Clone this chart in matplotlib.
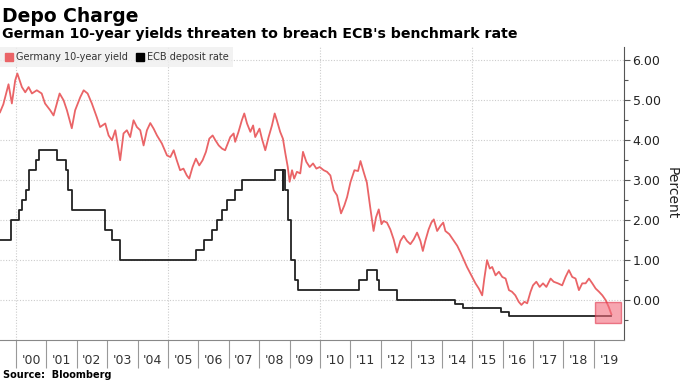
import matplotlib
matplotlib.use("Agg")
import matplotlib.pyplot as plt
from matplotlib.lines import Line2D
from matplotlib.patches import Rectangle
import numpy as np

# German 10-year yield (decimal year, percent)
yield_t = [1999.48, 1999.59, 1999.76, 1999.87, 1999.98, 2000.05, 2000.20, 2000.31, 2000.42, 2000.53,
           2000.69, 2000.85, 2000.96, 2001.13, 2001.24, 2001.35, 2001.44, 2001.57, 2001.68, 2001.84,
           2001.95, 2002.12, 2002.23, 2002.36, 2002.50, 2002.66, 2002.77, 2002.94, 2003.05, 2003.16,
           2003.27, 2003.38, 2003.43, 2003.54, 2003.65, 2003.76, 2003.87, 2003.98, 2004.09, 2004.20,
           2004.31, 2004.42, 2004.53, 2004.64, 2004.80, 2004.97, 2005.08, 2005.19, 2005.29, 2005.40,
           2005.51, 2005.62, 2005.70, 2005.81, 2005.92, 2006.03, 2006.14, 2006.25, 2006.36, 2006.47,
           2006.56, 2006.67, 2006.78, 2006.88, 2006.99, 2007.05, 2007.16, 2007.21, 2007.32, 2007.43,
           2007.51, 2007.60, 2007.71, 2007.80, 2007.87, 2008.01, 2008.09, 2008.20, 2008.31, 2008.42,
           2008.51, 2008.58, 2008.69, 2008.78, 2008.86, 2008.94, 2009.00, 2009.08, 2009.15, 2009.24,
           2009.35, 2009.44, 2009.55, 2009.66, 2009.77, 2009.88, 2009.99, 2010.12, 2010.23, 2010.34,
           2010.45, 2010.56, 2010.69, 2010.80, 2010.89, 2011.00, 2011.13, 2011.25, 2011.33, 2011.44,
           2011.54, 2011.65, 2011.76, 2011.84, 2011.93, 2012.02, 2012.09, 2012.20, 2012.31, 2012.42,
           2012.53, 2012.64, 2012.75, 2012.86, 2012.97, 2013.08, 2013.19, 2013.30, 2013.38, 2013.46,
           2013.57, 2013.66, 2013.74, 2013.85, 2013.96, 2014.05, 2014.12, 2014.25, 2014.40, 2014.51,
           2014.62, 2014.73, 2014.83, 2014.94, 2015.11, 2015.22, 2015.33, 2015.40, 2015.49, 2015.58,
           2015.66, 2015.77, 2015.88, 2015.99, 2016.10, 2016.21, 2016.31, 2016.42, 2016.53, 2016.62,
           2016.72, 2016.81, 2016.92, 2017.00, 2017.11, 2017.22, 2017.33, 2017.44, 2017.58, 2017.68,
           2017.82, 2017.96, 2018.07, 2018.18, 2018.29, 2018.40, 2018.51, 2018.62, 2018.73, 2018.84,
           2018.95, 2019.06, 2019.17, 2019.28, 2019.39, 2019.49, 2019.58]
yield_v = [4.70, 4.90, 5.40, 4.92, 5.50, 5.67, 5.33, 5.20, 5.33, 5.17,
           5.25, 5.17, 4.92, 4.75, 4.62, 4.92, 5.17, 5.00, 4.75, 4.30,
           4.75, 5.08, 5.25, 5.17, 4.92, 4.58, 4.33, 4.42, 4.12, 4.00,
           4.25, 3.75, 3.50, 4.17, 4.25, 4.08, 4.50, 4.33, 4.25, 3.87,
           4.25, 4.43, 4.29, 4.12, 3.92, 3.62, 3.58, 3.75, 3.50, 3.25,
           3.29, 3.12, 3.04, 3.33, 3.54, 3.37, 3.50, 3.71, 4.04, 4.12,
           4.00, 3.87, 3.79, 3.75, 3.96, 4.08, 4.17, 3.96, 4.21, 4.50,
           4.67, 4.42, 4.21, 4.37, 4.08, 4.29, 4.04, 3.75, 4.08, 4.37,
           4.67, 4.50, 4.21, 4.04, 3.67, 3.33, 2.96, 3.25, 3.04, 3.21,
           3.17, 3.71, 3.46, 3.33, 3.42, 3.29, 3.33, 3.25, 3.21, 3.12,
           2.75, 2.62, 2.17, 2.37, 2.58, 2.95, 3.25, 3.23, 3.48, 3.19,
           2.94, 2.32, 1.73, 2.07, 2.27, 1.90, 1.98, 1.94, 1.77, 1.52,
           1.19, 1.48, 1.61, 1.48, 1.40, 1.52, 1.69, 1.48, 1.23, 1.48,
           1.77, 1.94, 2.02, 1.73, 1.86, 1.94, 1.73, 1.65, 1.48, 1.36,
           1.19, 1.00, 0.83, 0.67, 0.42, 0.29, 0.12, 0.54, 1.00, 0.79,
           0.83, 0.62, 0.71, 0.58, 0.54, 0.25, 0.21, 0.12, -0.04, -0.12,
           -0.04, -0.08, 0.21, 0.37, 0.46, 0.33, 0.42, 0.33, 0.54, 0.46,
           0.42, 0.37, 0.58, 0.75, 0.58, 0.54, 0.25, 0.42, 0.42, 0.54,
           0.42, 0.29, 0.21, 0.12, 0.00, -0.17, -0.36]

# ECB deposit rate, value holds from each date until the next
ecb_t = [1999.48, 1999.846, 2000.095, 2000.208, 2000.322, 2000.437, 2000.667, 2000.762, 2001.359, 2001.663,
         2001.712, 2001.856, 2002.929, 2003.178, 2003.427, 2005.929, 2006.181, 2006.452, 2006.603, 2006.775,
         2006.947, 2007.197, 2007.447, 2008.519, 2008.770, 2008.776, 2008.864, 2008.940, 2009.055, 2009.189,
         2009.266, 2011.280, 2011.532, 2011.858, 2011.953, 2012.527, 2014.444, 2014.693, 2015.940, 2016.205,
         2019.58]
ecb_v = [1.50, 2.00, 2.25, 2.50, 2.75, 3.25, 3.50, 3.75, 3.50, 3.25,
         2.75, 2.25, 1.75, 1.50, 1.00, 1.25, 1.50, 1.75, 2.00, 2.25,
         2.50, 2.75, 3.00, 3.25, 2.75, 3.25, 2.75, 2.00, 1.00, 0.50,
         0.25, 0.50, 0.75, 0.50, 0.25, 0.00, -0.10, -0.20, -0.30, -0.40,
         -0.40]

years = list(range(2000, 2020))
year_labels = ["'%02d" % (y % 100) for y in years]
yticks = [0, 1, 2, 3, 4, 5, 6]

# highlighted zone at the end of the chart
box_x = (2019.03, 2019.88)
box_y = (-0.57, -0.05)

red = "#ea6467"
black = "#222222"

fig = plt.figure(figsize=(6.8, 3.83), dpi=100)
ax = fig.add_axes([0.0, 0.112, 0.918, 0.765])

ax.plot(yield_t, yield_v, color=red, lw=1.3, zorder=3)
ax.plot(ecb_t, ecb_v, color=black, lw=1.3, drawstyle="steps-post", zorder=4)
ax.add_patch(Rectangle((box_x[0], box_y[0]), box_x[1] - box_x[0], box_y[1] - box_y[0],
                       facecolor="#f36b7c", alpha=0.6, edgecolor="#e0344a", lw=1.0, zorder=5))

ax.set_xlim(1999.48, 2020.0)
ax.set_ylim(-1.0, 6.33)

# y axis on the right
ax.yaxis.tick_right()
ax.yaxis.set_label_position("right")
ax.set_yticks(yticks)
ax.set_yticklabels(["%.2f" % y for y in yticks])
ax.set_yticks(np.arange(-0.5, 6.0, 1.0), minor=True)
ax.tick_params(axis="y", which="major", length=4, width=0.8, color="#555555", labelsize=9,
               labelcolor="#222222", pad=2)
ax.tick_params(axis="y", which="minor", length=3, width=0.8, color="#555555")
ax.set_ylabel("Percent", rotation=270, fontsize=10, color="#222222", labelpad=13)

# x axis: long ticks on year boundaries, labels in the middle of the year
ax.set_xticks(years)
ax.set_xticklabels([])
ax.set_xticks([y + 0.5 for y in years], minor=True)
ax.set_xticklabels(year_labels, minor=True)
ax.tick_params(axis="x", which="major", length=20, width=0.8, color="#999999")
ax.tick_params(axis="x", which="minor", length=0, labelsize=9, labelcolor="#333333", pad=10)

for s in ["top", "left"]:
    ax.spines[s].set_visible(False)
ax.spines["right"].set_color("#555555")
ax.spines["bottom"].set_color("#888888")

for y in yticks:
    ax.axhline(y, color="#cccccc", lw=0.8, ls=(0, (1, 1.5)), zorder=1)
for x in [2000, 2005, 2010, 2015]:
    ax.axvline(x, color="#cccccc", lw=0.8, ls=(0, (1, 1.5)), zorder=1)

handles = [Line2D([], [], marker="s", ls="", color=red, markersize=6, label="Germany 10-year yield"),
           Line2D([], [], marker="s", ls="", color="black", markersize=6, label="ECB deposit rate")]
leg = ax.legend(handles=handles, loc="upper left", bbox_to_anchor=(0.0, 1.0), ncol=2, frameon=True,
                fontsize=7, handletextpad=0.25, columnspacing=0.8, borderaxespad=0.0,
                borderpad=0.5, handlelength=0.9)
leg.get_frame().set_facecolor("#efefef")
leg.get_frame().set_edgecolor("none")
leg.get_frame().set_boxstyle("square", pad=0)
for t in leg.get_texts():
    t.set_color("#333333")

fig.text(0.003, 0.943, "Depo Charge", fontsize=13.5, fontweight="bold", va="baseline")
fig.text(0.003, 0.902, "German 10-year yields threaten to breach ECB's benchmark rate",
         fontsize=10.2, fontweight="bold", va="baseline")
fig.text(0.004, 0.012, "Source:  Bloomberg", fontsize=7, fontweight="bold", va="baseline")

plt.savefig("out.png", dpi=100)
